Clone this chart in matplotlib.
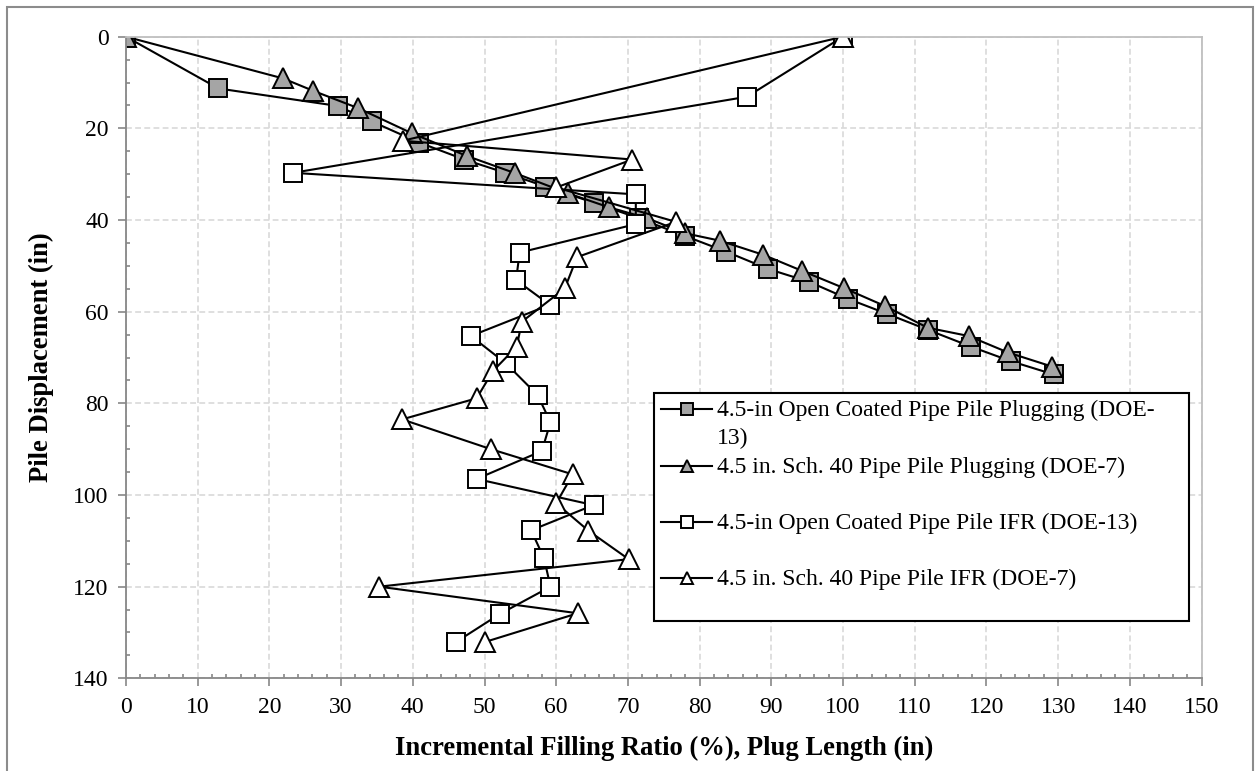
import matplotlib.pyplot as plt
from matplotlib.lines import Line2D
from matplotlib.patches import Rectangle
from matplotlib.ticker import MultipleLocator

# 4.5-in open coated pipe pile plugging (DOE-13)
coated_plug_x = [0, 12.9, 29.5, 34.3, 40.9, 47.2, 52.9, 58.5, 65.2, 71.5, 78.0, 83.7, 89.6, 95.3, 100.7, 106.2, 111.9, 117.8, 123.4, 129.4]
coated_plug_y = [0, 11.3, 15.1, 18.5, 23.1, 26.8, 29.7, 32.7, 36.2, 39.6, 43.5, 46.9, 50.7, 53.5, 57.2, 60.5, 64.0, 67.6, 70.8, 73.7]

# 4.5 in. Sch. 40 pipe pile plugging (DOE-7)
sch40_plug_x = [0, 21.9, 26.1, 32.4, 39.9, 47.5, 54.3, 61.7, 67.3, 72.7, 78.0, 82.8, 88.9, 94.3, 100.2, 105.9, 111.8, 117.5, 123.0, 129.2]
sch40_plug_y = [0, 9.1, 11.8, 15.6, 21.1, 26.0, 29.8, 34.2, 37.2, 39.6, 42.9, 44.5, 47.6, 51.1, 54.9, 58.8, 63.5, 65.3, 68.9, 72.0]

# 4.5-in open coated pipe pile IFR (DOE-13)
coated_ifr_x = [100, 86.6, 23.3, 71.1, 71.1, 54.9, 54.4, 59.1, 48.1, 53.0, 57.4, 59.2, 58.0, 48.9, 65.2, 56.5, 58.3, 59.2, 52.1, 46.0]
coated_ifr_y = [0, 13.1, 29.7, 34.4, 40.9, 47.1, 53.1, 58.5, 65.3, 71.3, 78.2, 84.1, 90.4, 96.5, 102.2, 107.7, 113.8, 120.0, 126.0, 132.1]

# 4.5 in. Sch. 40 pipe pile IFR (DOE-7)
sch40_ifr_x = [100, 38.6, 70.6, 60.0, 76.7, 62.9, 61.2, 55.2, 54.5, 51.2, 48.9, 38.5, 50.9, 62.3, 60.0, 64.5, 70.1, 35.3, 63.0, 50.0]
sch40_ifr_y = [0, 22.7, 26.8, 32.9, 40.4, 48.1, 54.9, 62.2, 67.6, 72.9, 78.9, 83.5, 90.0, 95.5, 101.8, 107.8, 114.0, 120.0, 125.8, 132.1]

labels = ["4.5-in Open Coated Pipe Pile Plugging (DOE-", "13)",
          "4.5 in. Sch. 40 Pipe Pile Plugging (DOE-7)",
          "4.5-in Open Coated Pipe Pile IFR (DOE-13)",
          "4.5 in. Sch. 40 Pipe Pile IFR (DOE-7)"]

plt.rcParams['font.family'] = ['Liberation Serif', 'DejaVu Serif']

fig = plt.figure(figsize=(12.55, 7.71), dpi=100)
ax = fig.add_axes([0.1004, 0.1202, 0.857, 0.8322])

# рамка навколо всієї картинки (нижній край за межами)
fig.patches.append(Rectangle((0.0056, -0.05), 0.9932, 1.041, transform=fig.transFigure,
                             fill=False, edgecolor='#8c8c8c', linewidth=1.5))

gray = '#a5a5a5'
style = dict(color='black', linewidth=1.5, markeredgecolor='black', markeredgewidth=1.4)
ax.plot(coated_plug_x, coated_plug_y, marker='s', markersize=13.5, markerfacecolor=gray, **style)
ax.plot(sch40_plug_x, sch40_plug_y, marker='^', markersize=14, markerfacecolor=gray, **style)
ax.plot(coated_ifr_x, coated_ifr_y, marker='s', markersize=13.5, markerfacecolor='white', **style)
ax.plot(sch40_ifr_x, sch40_ifr_y, marker='^', markersize=14, markerfacecolor='white', **style)

ax.set_xlim(0, 150)
ax.set_ylim(140, 0)
ax.xaxis.set_major_locator(MultipleLocator(10))
ax.xaxis.set_minor_locator(MultipleLocator(2))
ax.yaxis.set_major_locator(MultipleLocator(20))
ax.yaxis.set_minor_locator(MultipleLocator(5))
ax.grid(True, which='major', color='#d9d9d9', linestyle=(0, (3.5, 2)), linewidth=1.2)
ax.set_axisbelow(True)

for side in ['left', 'bottom']:
    ax.spines[side].set_color('#878787')
    ax.spines[side].set_linewidth(1.3)
for side in ['top', 'right']:
    ax.spines[side].set_color('#bfbfbf')
    ax.spines[side].set_linewidth(1.3)

ax.tick_params(which='major', direction='out', length=5.5, width=1.2, color='#878787', labelsize=17)
ax.tick_params(axis='x', which='major', pad=8)
ax.tick_params(axis='y', which='major', pad=7)
ax.tick_params(which='minor', direction='in', length=3, width=1.2, color='#878787')

ax.set_xlabel("Incremental Filling Ratio (%), Plug Length (in)", fontsize=19.2, fontweight='bold', labelpad=13)
ax.set_ylabel("Pile Displacement (in)", fontsize=19.2, fontweight='bold', labelpad=14)

# легенда: перший підпис переноситься на другий рядок, як в оригіналі
def handle(marker, face):
    return Line2D([], [], color='black', linewidth=1.5, marker=marker, markersize=9,
                  markerfacecolor=face, markeredgecolor='black', markeredgewidth=1.4)

blank = Line2D([], [], linestyle='none')
handles = [handle('s', gray), blank, handle('^', gray), blank,
           handle('s', 'white'), blank, handle('^', 'white'), blank]
legend_labels = [labels[0], labels[1], labels[2], ' ', labels[3], ' ', labels[4], ' ']
leg = ax.legend(handles, legend_labels, loc='upper left', bbox_to_anchor=(0.4912, 0.0, 0.4967, 0.445),
                mode='expand', borderaxespad=0, fontsize=17, frameon=True, fancybox=False,
                edgecolor='black', framealpha=1, labelspacing=0.3, handlelength=2.15,
                handleheight=0.3, handletextpad=0.2, borderpad=0.3)
leg.get_frame().set_linewidth(1.5)
leg.get_texts()[-1].set_fontsize(9)

plt.savefig('out.png', dpi=100)
